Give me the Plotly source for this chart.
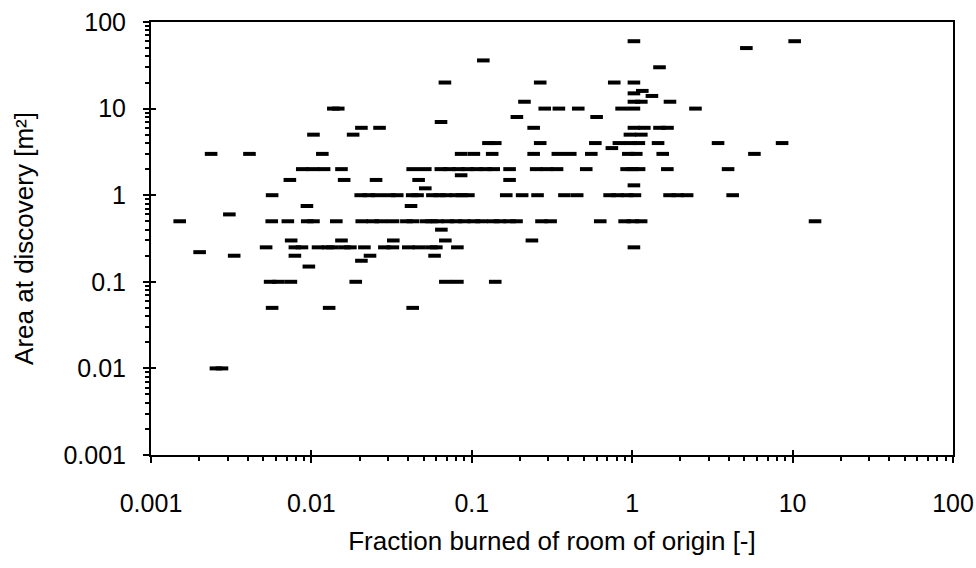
import plotly.graph_objects as go

# Area at discovery levels [m²] and the room-fraction values observed at each level
area_levels = [60, 50, 36, 30, 20, 16, 15, 14, 12, 10, 8, 7, 6, 5, 4, 3.5, 3, 2, 1.7, 1.5,
               1.3, 1.2, 1, 0.75, 0.6, 0.5, 0.4, 0.3, 0.25, 0.22, 0.2, 0.175, 0.15, 0.1,
               0.05, 0.01]
fraction_rows = [
    [1.025, 10.3],
    [5.15],
    [0.118],
    [1.48],
    [0.068, 0.267, 0.773, 1.025],
    [1.156],
    [1.025],
    [1.327],
    [0.213, 1.025, 1.14, 1.72],
    [0.0137, 0.0147, 0.285, 0.349, 0.461, 0.859, 1.025, 2.48],
    [0.191, 0.600],
    [0.0643],
    [0.0205, 0.0266, 0.243, 1.025, 1.19, 1.48, 1.66],
    [0.0103, 0.0182, 0.968, 1.14],
    [0.127, 0.140, 0.267, 0.589, 0.826, 0.977, 1.10, 1.45, 3.43, 8.6],
    [0.747],
    [0.00237, 0.00411, 0.0117, 0.0858, 0.103, 0.134, 0.243, 0.344, 0.411, 0.556,
     0.946, 1.06, 1.55, 5.78],
    [0.00877, 0.0102, 0.0120, 0.0154, 0.0428, 0.0513, 0.0641, 0.0725, 0.0825, 0.0939,
     0.107, 0.122, 0.137, 0.172, 0.252, 0.294, 0.340, 0.517, 0.923, 1.005, 1.104,
     1.656, 3.96],
    [0.0858],
    [0.00734, 0.0160, 0.0253, 0.0466, 0.172],
    [1.025],
    [0.0513],
    [0.00569, 0.0203, 0.0228, 0.0256, 0.0306, 0.0343, 0.0425, 0.0459, 0.0568, 0.0628,
     0.0689, 0.0796, 0.0868, 0.0952, 0.164, 0.206, 0.257, 0.378, 0.454, 0.723, 0.811,
     0.929, 1.04, 1.71, 1.92, 2.20, 4.23],
    [0.00938, 0.0418],
    [0.00308],
    [0.00151, 0.00566, 0.00713, 0.00942, 0.0103, 0.0143, 0.0206, 0.0241, 0.0271, 0.0323,
     0.0391, 0.0429, 0.0517, 0.0561, 0.0610, 0.0709, 0.0798, 0.0899, 0.103, 0.115,
     0.136, 0.150, 0.172, 0.190, 0.272, 0.310, 0.632, 0.897, 1.01, 1.137, 13.8],
    [0.0646],
    [0.00748, 0.0154, 0.0324, 0.0684, 0.237],
    [0.00522, 0.00789, 0.00873, 0.0110, 0.0127, 0.0135, 0.0161, 0.0175, 0.0214, 0.0285,
     0.0322, 0.0402, 0.0468, 0.0560, 0.0601, 0.0813, 1.025],
    [0.00201],
    [0.0033, 0.00789, 0.0232, 0.0586],
    [0.0205],
    [0.00964],
    [0.00553, 0.00623, 0.00745, 0.0189, 0.0684, 0.0813, 0.140],
    [0.00569, 0.0129, 0.0428],
    [0.00254, 0.00277],
]

fraction_burned = [f for row in fraction_rows for f in row]
area_at_discovery = [a for a, row in zip(area_levels, fraction_rows) for _ in row]

decade_vals = [0.001, 0.01, 0.1, 1, 10, 100]
decade_text = ["0.001", "0.01", "0.1", "1", "10", "100"]
minor_vals = [m * d for d in decade_vals[:-1] for m in range(2, 10)]

FONT = "Liberation Sans, Arial, sans-serif"

fig = go.Figure()
fig.add_trace(go.Scatter(
    x=fraction_burned, y=area_at_discovery, mode="markers",
    marker=dict(symbol="line-ew", size=9, color="black",
                line=dict(width=4, color="black")),
    showlegend=False,
))
# empty trace to carry the overlay axes (inner half of the crossing major ticks)
fig.add_trace(go.Scatter(x=[], y=[], xaxis="x2", yaxis="y2", showlegend=False))

common = dict(
    type="log", range=[-3, 2], tickmode="array", tickvals=decade_vals,
    ticktext=decade_text, ticks="outside", ticklen=6, tickwidth=2,
    tickcolor="black", showline=True, linecolor="black", linewidth=2,
    mirror=True, showgrid=False, zeroline=False, automargin=False,
    tickfont=dict(family=FONT, size=25, color="black"),
    minor=dict(tickvals=minor_vals, ticks="outside", ticklen=4, tickwidth=1.5,
               tickcolor="black", showgrid=False),
)
overlay = dict(
    type="log", range=[-3, 2], tickmode="array", tickvals=decade_vals,
    ticks="inside", ticklen=5, tickwidth=2, tickcolor="black", automargin=False,
    showticklabels=False, showline=False, showgrid=False, zeroline=False,
)

fig.update_layout(
    template="none",
    width=976, height=568,
    margin=dict(l=151, r=23, t=22, b=113, autoexpand=False),
    paper_bgcolor="white", plot_bgcolor="white",
    font=dict(family=FONT, color="black"),
    xaxis=dict(**common, ticklabelstandoff=19,
               title=dict(text="Fraction burned of room of origin [-]",
                          font=dict(family=FONT, size=26, color="black"),
                          standoff=16)),
    yaxis=dict(**common, ticklabelstandoff=12,
               title=dict(text="Area at discovery [m²]",
                          font=dict(family=FONT, size=26, color="black"),
                          standoff=22)),
    xaxis2=dict(**overlay, overlaying="x", anchor="y", side="bottom"),
    yaxis2=dict(**overlay, overlaying="y", anchor="x", side="left"),
)

# remove the page's default body margin so the figure fills the window exactly
fig.write_html(
    "out.html",
    config={"displayModeBar": False},
    post_script="document.body.style.margin='0';"
                "document.documentElement.style.overflow='hidden';",
)
